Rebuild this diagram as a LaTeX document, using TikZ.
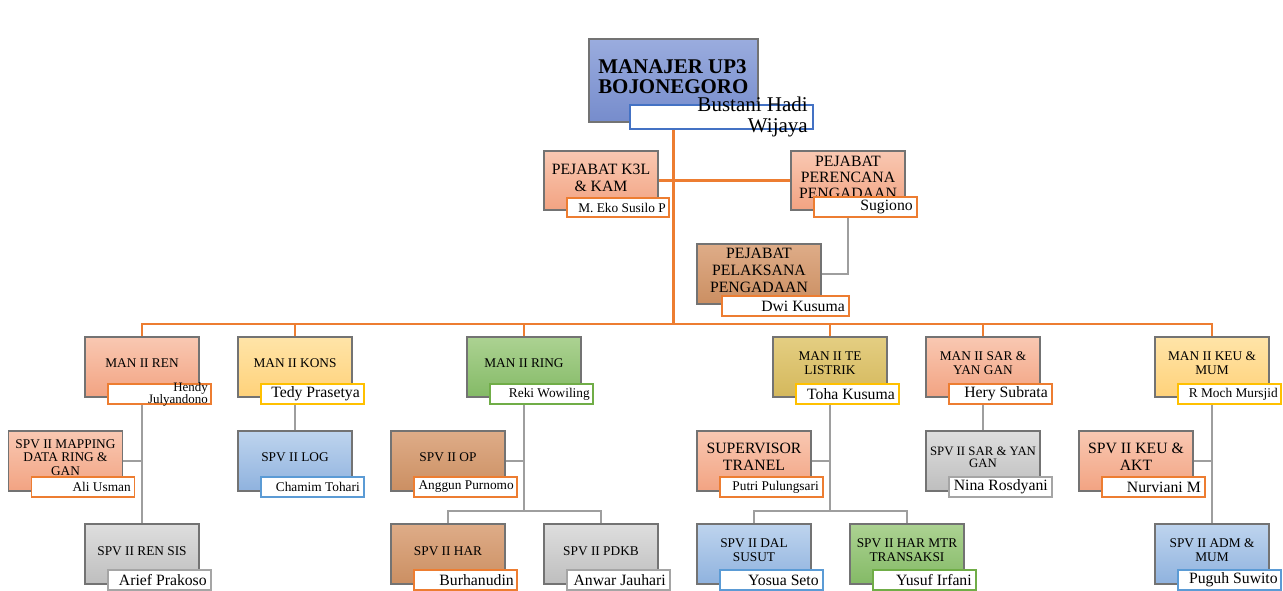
\documentclass[tikz,border=0pt]{standalone}
\usepackage{fontspec}
\setmainfont{Liberation Serif}
\definecolor{linkorange}{HTML}{ED7D31}
\definecolor{linkgray}{HTML}{9E9E9E}
\definecolor{edgeorange}{HTML}{ED7D31}
\definecolor{edgeyellow}{HTML}{FFC000}
\definecolor{edgegreen}{HTML}{70AD47}
\definecolor{edgeblue}{HTML}{5B9BD5}
\definecolor{edgenavy}{HTML}{4472C4}
\definecolor{edgegray}{HTML}{A5A5A5}
\tikzset{
	unit/.style={draw=black!55, line width=0.9pt, minimum width=85.5pt, minimum height=45pt, inner sep=0pt},
	who/.style={line width=1pt, fill=white, minimum width=77.25pt, minimum height=15pt, inner sep=0pt},
	lbl/.style={font=\fontsize{10}{10.5}\selectfont, align=center, inner sep=0pt},
	lblbig/.style={font=\fontsize{11.8}{12.75}\selectfont, align=center, inner sep=0pt},
	nm/.style={anchor=east, align=right, inner sep=0pt, font=\fontsize{10}{11}\selectfont},
	nmbig/.style={nm, font=\fontsize{11.8}{12}\selectfont},
	orgline/.style={draw=linkorange, line width=1.6pt},
	subline/.style={draw=linkgray, line width=1.8pt},
	fillnavy/.style={top color={rgb,255:red,154;green,172;blue,222}, bottom color={rgb,255:red,118;green,140;blue,204}},
	fillsalmon/.style={top color={rgb,255:red,249;green,200;blue,178}, bottom color={rgb,255:red,242;green,163;blue,130}},
	fillbrown/.style={top color={rgb,255:red,222;green,172;blue,136}, bottom color={rgb,255:red,203;green,143;blue,98}},
	fillyellow/.style={top color={rgb,255:red,255;green,228;blue,168}, bottom color={rgb,255:red,255;green,210;blue,122}},
	fillolive/.style={top color={rgb,255:red,228;green,206;blue,130}, bottom color={rgb,255:red,212;green,184;blue,92}},
	fillgreen/.style={top color={rgb,255:red,172;green,210;blue,146}, bottom color={rgb,255:red,132;green,186;blue,102}},
	fillblue/.style={top color={rgb,255:red,190;green,212;blue,238}, bottom color={rgb,255:red,143;green,178;blue,222}},
	fillgray/.style={top color={rgb,255:red,222;green,222;blue,222}, bottom color={rgb,255:red,190;green,190;blue,190}},
}

\begin{document}
\begin{tikzpicture}[x=0.75pt, y=-0.75pt]
		\useasboundingbox (0,0) rectangle (1283,590);
		\coordinate (bus) at (673.5,324);
		\coordinate (ringfork) at (524,511);
		\coordinate (tefork) at (830,511);

		% top of the chart
		\node[unit, fillnavy, minimum width=126.75pt, minimum height=62.25pt] (man) at (673.5,80.5) {};
		\node[font=\bfseries\fontsize{15.7}{15}\selectfont, align=left, anchor=west, inner sep=0pt] (man-t) at (598,77) {MANAJER UP3\\BOJONEGORO};
		\node[who, draw=edgenavy, minimum width=137.25pt, minimum height=18pt] (man-p) at (721.5,117) {};
		\node[nm, font=\fontsize{15.75}{15.75}\selectfont] (man-n) at (808,117) {Bustani Hadi\\Wijaya};

		\node[unit, fillsalmon, minimum height=44.25pt] (k3l) at (601,180.5) {};
		\node[lblbig] (k3l-t) at (601,177.5) {PEJABAT K3L\\\& KAM};
		\node[who, draw=edgeorange, minimum width=76.5pt, minimum height=14.25pt] (k3l-p) at (618,207.5) {};
		\node[nm] (k3l-n) at (666,207.5) {M. Eko Susilo P};

		\node[unit, fillsalmon, minimum height=44.25pt] (per) at (848,180.5) {};
		\node[lblbig, font=\fontsize{11.8}{12}\selectfont] (per-t) at (848,177) {PEJABAT\\PERENCANA\\PENGADAAN};
		\node[who, draw=edgeorange] (per-p) at (865.5,207) {};
		\node[nmbig] (per-n) at (913,207) {Sugiono};

		\node[unit, fillbrown, minimum width=93pt] (pel) at (759,274) {};
		\node[lblbig] (pel-t) at (759,270) {PEJABAT\\PELAKSANA\\PENGADAAN};
		\node[who, draw=edgeorange, minimum width=95.25pt] (pel-p) at (785.5,306) {};
		\node[nmbig] (pel-n) at (845,306) {Dwi Kusuma};

		% managers
		\node[unit, fillsalmon] (ren) at (142,367) {};
		\node[lbl] (ren-t) at (142,363) {MAN II REN};
		\node[who, draw=edgeorange] (ren-p) at (159.5,394) {};
		\node[nm, font=\fontsize{9.7}{9}\selectfont] (ren-n) at (208,394) {Hendy\\Julyandono};

		\node[unit, fillyellow] (kons) at (295,367) {};
		\node[lbl] (kons-t) at (295,363) {MAN II KONS};
		\node[who, draw=edgeyellow] (kons-p) at (312.5,394) {};
		\node[nmbig] (kons-n) at (360,394) {Tedy Prasetya};

		\node[unit, fillgreen] (ring) at (524,367) {};
		\node[lbl] (ring-t) at (524,363) {MAN II RING};
		\node[who, draw=edgegreen] (ring-p) at (541.5,394) {};
		\node[nm] (ring-n) at (590,394) {Reki Wowiling};

		\node[unit, fillolive] (te) at (830,367) {};
		\node[lbl] (te-t) at (830,363) {MAN II TE\\LISTRIK};
		\node[who, draw=edgeyellow] (te-p) at (847.5,394) {};
		\node[nmbig] (te-n) at (895,394) {Toha Kusuma};

		\node[unit, fillsalmon] (sar) at (983,367) {};
		\node[lbl] (sar-t) at (983,363) {MAN II SAR \&\\YAN GAN};
		\node[who, draw=edgeorange] (sar-p) at (1000.5,394) {};
		\node[nmbig] (sar-n) at (1048,394) {Hery Subrata};

		\node[unit, fillyellow] (keu) at (1212,367) {};
		\node[lbl] (keu-t) at (1212,363) {MAN II KEU \&\\MUM};
		\node[who, draw=edgeyellow] (keu-p) at (1229.5,394) {};
		\node[nm] (keu-n) at (1278,394) {R Moch Mursjid};

		% supervisors
		\node[unit, fillsalmon] (map) at (65.5,461) {};
		\node[lbl, font=\fontsize{10}{10.1}\selectfont] (map-t) at (65.5,457.5) {SPV II MAPPING\\DATA RING \&\\GAN};
		\node[who, draw=edgeorange] (map-p) at (83,487) {};
		\node[nm] (map-n) at (131,487) {Ali Usman};

		\node[unit, fillblue] (log) at (295,461) {};
		\node[lbl] (log-t) at (295,457) {SPV II LOG};
		\node[who, draw=edgeblue] (log-p) at (312.5,487) {};
		\node[nm] (log-n) at (360,487) {Chamim Tohari};

		\node[unit, fillbrown] (op) at (448,461) {};
		\node[lbl] (op-t) at (448,457) {SPV II OP};
		\node[who, draw=edgeorange] (op-p) at (465.5,487) {};
		\node[nm] (op-n) at (514,487) {Anggun Purnomo};

		\node[unit, fillsalmon] (tranel) at (754,461) {};
		\node[lblbig] (tranel-t) at (754,456.5) {SUPERVISOR\\TRANEL};
		\node[who, draw=edgeorange] (tranel-p) at (771.5,487) {};
		\node[nm] (tranel-n) at (819,487) {Putri Pulungsari};

		\node[unit, fillgray] (sarspv) at (983,461) {};
		\node[lbl, font=\fontsize{9.6}{9}\selectfont] (sarspv-t) at (983,457) {SPV II SAR \& YAN\\GAN};
		\node[who, draw=edgegray] (sarspv-p) at (1000.5,487) {};
		\node[nmbig] (sarspv-n) at (1048,487) {Nina Rosdyani};

		\node[unit, fillsalmon] (akt) at (1136,461) {};
		\node[lblbig] (akt-t) at (1136,456.5) {SPV II KEU \&\\AKT};
		\node[who, draw=edgeorange] (akt-p) at (1153.5,487) {};
		\node[nmbig] (akt-n) at (1201,487) {Nurviani M};

		\node[unit, fillgray] (rensis) at (142,554) {};
		\node[lbl] (rensis-t) at (142,551) {SPV II REN SIS};
		\node[who, draw=edgegray] (rensis-p) at (159.5,580) {};
		\node[nmbig] (rensis-n) at (207,580) {Arief Prakoso};

		\node[unit, fillbrown] (har) at (448,554) {};
		\node[lbl] (har-t) at (448,551) {SPV II HAR};
		\node[who, draw=edgeorange] (har-p) at (465.5,580) {};
		\node[nmbig] (har-n) at (514,580) {Burhanudin};

		\node[unit, fillgray] (pdkb) at (601,554) {};
		\node[lbl] (pdkb-t) at (601,551) {SPV II PDKB};
		\node[who, draw=edgegray] (pdkb-p) at (618.5,580) {};
		\node[nmbig] (pdkb-n) at (666,580) {Anwar Jauhari};

		\node[unit, fillblue] (dal) at (754,554) {};
		\node[lbl] (dal-t) at (754,550) {SPV II DAL\\SUSUT};
		\node[who, draw=edgeblue] (dal-p) at (771.5,580) {};
		\node[nmbig] (dal-n) at (819,580) {Yosua Seto};

		\node[unit, fillgreen] (hartr) at (907,554) {};
		\node[lbl] (hartr-t) at (907,550) {SPV II HAR MTR\\TRANSAKSI};
		\node[who, draw=edgegreen] (hartr-p) at (924.5,580) {};
		\node[nmbig] (hartr-n) at (972,580) {Yusuf Irfani};

		\node[unit, fillblue] (adm) at (1212,554) {};
		\node[lbl] (adm-t) at (1212,550) {SPV II ADM \&\\MUM};
		\node[who, draw=edgeblue] (adm-p) at (1229.5,580) {};
		\node[nmbig] (adm-n) at (1278,580) {Puguh Suwito};

		% orange links
		\draw[orgline] (man.south |- man-p.south) -- (bus);
		\draw[orgline] (k3l.east) -- (per.west);
		\draw[orgline] (ren.north) |- (bus) -| (keu.north);
		\draw[orgline] (kons.north) -- (kons.north |- bus);
		\draw[orgline] (ring.north) -- (ring.north |- bus);
		\draw[orgline] (te.north) -- (te.north |- bus);
		\draw[orgline] (sar.north) -- (sar.north |- bus);

		% gray links
		\draw[subline] (per.south |- per-p.south) |- (pel.east);
		\draw[subline] (ren.south |- ren-p.south) -- (rensis.north);
		\draw[subline] (map.east) -- (map.east -| ren.south);
		\draw[subline] (kons.south |- kons-p.south) -- (log.north);
		\draw[subline] (ring.south |- ring-p.south) -- (ringfork);
		\draw[subline] (op.east) -- (op.east -| ringfork);
		\draw[subline] (har.north) |- (ringfork) -| (pdkb.north);
		\draw[subline] (te.south |- te-p.south) -- (tefork);
		\draw[subline] (tranel.east) -- (tranel.east -| tefork);
		\draw[subline] (dal.north) |- (tefork) -| (hartr.north);
		\draw[subline] (sar.south |- sar-p.south) -- (sarspv.north);
		\draw[subline] (keu.south |- keu-p.south) -- (adm.north);
		\draw[subline] (akt.east) -- (akt.east -| keu.south);

	\end{tikzpicture}
\end{document}
